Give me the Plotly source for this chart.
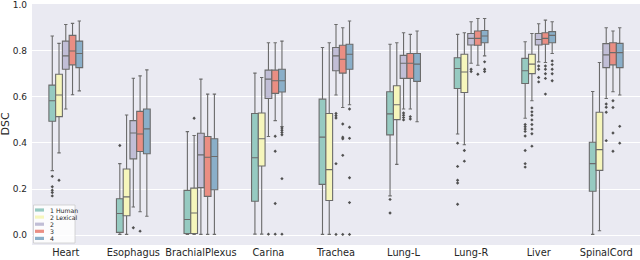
import plotly.graph_objects as go

categories = ["Heart", "Esophagus", "BrachialPlexus", "Carina", "Trachea",
              "Lung-L", "Lung-R", "Liver", "SpinalCord"]
series_names = ["1 Human", "2 Lexical", "2", "3", "4"]
colors = ["#96cac1", "#f6f6bc", "#c1bed6", "#ea8e83", "#8aafc9"]

# teal
s1_lo = [0.280, 0.003, 0.003, 0.004, 0.003, 0.170, 0.439, 0.507, 0.003]
s1_q1 = [0.494, 0.012, 0.007, 0.147, 0.220, 0.435, 0.636, 0.658, 0.190]
s1_md = [0.583, 0.094, 0.068, 0.336, 0.425, 0.526, 0.723, 0.713, 0.310]
s1_q3 = [0.651, 0.158, 0.194, 0.528, 0.590, 0.622, 0.770, 0.767, 0.403]
s1_hi = [0.864, 0.310, 0.449, 0.703, 0.814, 0.828, 0.871, 0.839, 0.623]
s1_out = [[0.255, 0.21, 0.195, 0.185, 0.17], [0.389], [], [], [],
          [0.155, 0.096], [0.399, 0.298, 0.238, 0.226, 0.134],
          [0.48, 0.47, 0.46, 0.45, 0.43, 0.367, 0.31, 0.295], []]
# yellow
s2_lo = [0.357, 0.003, 0.003, 0.004, 0.003, 0.307, 0.392, 0.583, 0.019]
s2_q1 = [0.514, 0.084, 0.007, 0.300, 0.150, 0.501, 0.619, 0.701, 0.281]
s2_md = [0.608, 0.166, 0.096, 0.418, 0.284, 0.566, 0.708, 0.742, 0.371]
s2_q3 = [0.698, 0.287, 0.204, 0.530, 0.528, 0.648, 0.785, 0.785, 0.533]
s2_hi = [0.832, 0.521, 0.432, 0.684, 0.835, 0.835, 0.878, 0.875, 0.749]
s2_out = [[0.238], [], [0.507], [], [], [], [0.367, 0.321],
          [0.552, 0.535, 0.52, 0.5, 0.48, 0.46, 0.44, 0.386], []]
# purple
s3_lo = [0.547, 0.122, 0.003, 0.428, 0.608, 0.547, 0.746, 0.752, 0.593]
s3_q1 = [0.720, 0.331, 0.206, 0.593, 0.713, 0.680, 0.825, 0.825, 0.727]
s3_md = [0.778, 0.443, 0.348, 0.677, 0.778, 0.746, 0.854, 0.849, 0.782]
s3_q3 = [0.842, 0.497, 0.442, 0.716, 0.814, 0.780, 0.875, 0.875, 0.831]
s3_hi = [0.914, 0.681, 0.677, 0.835, 0.914, 0.878, 0.926, 0.917, 0.900]
s3_out = [[], [0.032], [], [0.004], [0.528, 0.518, 0.508, 0.31, 0.003],
          [0.53, 0.52, 0.51, 0.50], [0.72, 0.71], [0.734, 0.72, 0.684, 0.665],
          [0.569, 0.555, 0.533, 0.41]]
# red
s4_lo = [0.609, 0.101, 0.003, 0.497, 0.554, 0.547, 0.737, 0.749, 0.622]
s4_q1 = [0.739, 0.363, 0.168, 0.615, 0.703, 0.680, 0.824, 0.828, 0.739]
s4_md = [0.799, 0.439, 0.338, 0.670, 0.763, 0.746, 0.854, 0.854, 0.792]
s4_q3 = [0.867, 0.537, 0.428, 0.716, 0.824, 0.788, 0.886, 0.878, 0.835]
s4_hi = [0.919, 0.691, 0.612, 0.835, 0.900, 0.871, 0.940, 0.933, 0.886]
s4_out = [[], [0.017], [], [0.429, 0.364, 0.137, 0.004],
          [0.482, 0.425, 0.418, 0.346, 0.003], [0.514, 0.504], [0.698],
          [0.734, 0.72, 0.70, 0.68, 0.612], [0.583, 0.554, 0.443, 0.364]]
# blue
s5_lo = [0.626, 0.082, 0.003, 0.471, 0.566, 0.492, 0.778, 0.788, 0.608]
s5_q1 = [0.727, 0.353, 0.197, 0.621, 0.720, 0.667, 0.835, 0.835, 0.727]
s5_md = [0.788, 0.461, 0.341, 0.670, 0.785, 0.742, 0.864, 0.867, 0.792]
s5_q3 = [0.842, 0.547, 0.418, 0.720, 0.828, 0.788, 0.888, 0.883, 0.832]
s5_hi = [0.929, 0.717, 0.612, 0.842, 0.929, 0.886, 0.940, 0.926, 0.900]
s5_out = [[], [], [], [0.465, 0.455, 0.445, 0.435, 0.245, 0.004],
          [0.547, 0.468, 0.42, 0.249, 0.141, 0.003], [], [0.752, 0.72, 0.71],
          [0.756, 0.74, 0.72, 0.70, 0.67], [0.472, 0.399]]

series = [
    (s1_lo, s1_q1, s1_md, s1_q3, s1_hi, s1_out),
    (s2_lo, s2_q1, s2_md, s2_q3, s2_hi, s2_out),
    (s3_lo, s3_q1, s3_md, s3_q3, s3_hi, s3_out),
    (s4_lo, s4_q1, s4_md, s4_q3, s4_hi, s4_out),
    (s5_lo, s5_q1, s5_md, s5_q3, s5_hi, s5_out),
]

LINE = "#6b6b6b"
TXT = "#262626"
FONT = "DejaVu Sans"

fig = go.Figure()
for j, (lo, q1, md, q3, hi, out) in enumerate(series):
    fig.add_trace(go.Box(
        x=categories, q1=q1, median=md, q3=q3, lowerfence=lo, upperfence=hi,
        name=series_names[j], offsetgroup=str(j), alignmentgroup="a",
        fillcolor=colors[j], line=dict(color=LINE, width=1.1),
        whiskerwidth=0.5, boxpoints=False, hoverinfo="skip", showlegend=False,
    ))
    ox, oy = [], []
    for c, vals in zip(categories, out):
        for v in vals:
            ox.append(c)
            oy.append(v)
    fig.add_trace(go.Box(
        x=ox, y=oy, offsetgroup=str(j), alignmentgroup="a",
        boxpoints="all", jitter=0, pointpos=0,
        fillcolor="rgba(0,0,0,0)", line=dict(color="rgba(0,0,0,0)", width=0),
        whiskerwidth=0,
        marker=dict(symbol="diamond", size=2.6, color="#505050"),
        hoverinfo="skip", showlegend=False,
    ))

# plot area geometry (pixels) for the hand-drawn legend box
W, H = 640, 260
ML, MR, MT, MB = 32, 0, 4, 15
PW, PH = W - ML - MR, H - MT - MB


def px(xp):
    return (xp - ML) / PW


def py(yp):
    return (H - MB - yp) / PH


shapes = [dict(type="rect", xref="paper", yref="paper", layer="above",
               x0=px(33.5), x1=px(75), y0=py(243), y1=py(205),
               fillcolor="rgba(255,255,255,0.85)",
               line=dict(color="#cccccc", width=0.8))]
annotations = []
for i, name in enumerate(series_names):
    yc = 210 + i * 7.1
    shapes.append(dict(type="rect", xref="paper", yref="paper", layer="above",
                       x0=px(35), x1=px(44), y0=py(yc + 1.6), y1=py(yc - 1.6),
                       fillcolor=colors[i], line=dict(width=0)))
    annotations.append(dict(xref="paper", yref="paper", x=px(47.5), y=py(yc),
                            text=name, showarrow=False, xanchor="left",
                            yanchor="middle",
                            font=dict(size=6.2, color=TXT, family=FONT)))
annotations.append(dict(xref="paper", yref="paper", x=0, y=0.5, xshift=-27,
                        text="DSC", textangle=-90, showarrow=False,
                        xanchor="center", yanchor="middle",
                        font=dict(size=11, color=TXT, family=FONT)))

fig.update_layout(
    width=W, height=H,
    margin=dict(l=ML, r=MR, t=MT, b=MB, autoexpand=False),
    paper_bgcolor="white", plot_bgcolor="#EAEAF2",
    boxmode="group", boxgap=0.5, boxgroupgap=0,
    shapes=shapes, annotations=annotations,
    showlegend=False,
    font=dict(family=FONT, color=TXT),
)
fig.update_xaxes(type="category", categoryorder="array", categoryarray=categories,
                 range=[-0.5, 8.5], showgrid=False, zeroline=False,
                 showline=False, ticks="", tickangle=0, automargin=False,
                 tickfont=dict(size=9.8, color=TXT, family=FONT))
fig.update_yaxes(range=[-0.043, 1.003], tick0=0, dtick=0.2, tickformat=".1f",
                 showgrid=True, gridcolor="white", gridwidth=1,
                 zeroline=False, showline=False, ticks="", automargin=False,
                 ticklabelstandoff=4, ticklabeloverflow="allow",
                 tickfont=dict(size=9, color=TXT, family=FONT))

fig.write_html("out.html", config={"displayModeBar": False},
               post_script="document.body.style.margin='0';"
                           "document.body.style.overflow='hidden';")
